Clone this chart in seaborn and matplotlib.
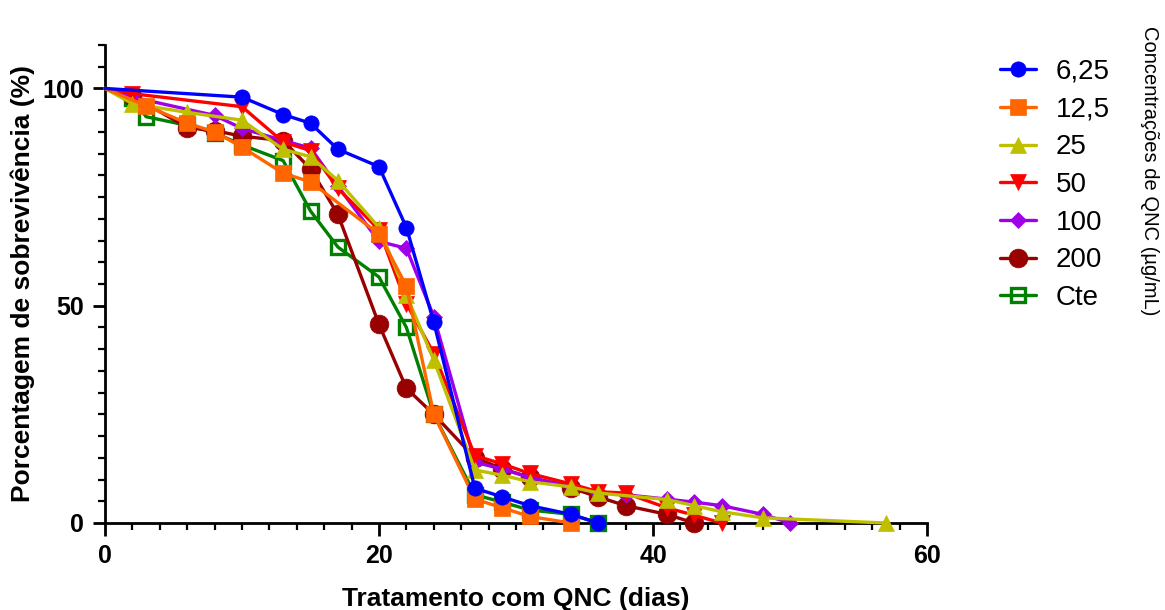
import numpy as np
import pandas as pd
import matplotlib
matplotlib.use("Agg")
import matplotlib.pyplot as plt
import seaborn as sns
from matplotlib.ticker import MultipleLocator

# survival (%) vs treatment day, per QNC concentration (ug/mL)
days_625 = [0, 10, 13, 15, 17, 20, 22, 24, 27, 29, 31, 34, 36]
surv_625 = [100, 98, 94, 92, 86, 82, 68, 46.2, 8, 6, 4, 2, 0]

days_125 = [0, 3, 6, 8, 10, 13, 15, 20, 22, 24, 27, 29, 31, 34]
surv_125 = [100, 96, 92, 90, 86.5, 80.5, 78.5, 66.5, 54.5, 25, 5.5, 3.5, 1.5, 0]

days_25 = [0, 2, 6, 10, 13, 15, 17, 20, 22, 24, 27, 29, 31, 34, 36, 41, 43, 45, 48, 57]
surv_25 = [100, 96.5, 94.5, 92.7, 86, 84.3, 78.8, 68, 52.5, 37.5, 12.2, 11, 9.5, 8.3, 6.9, 5.4, 4, 2.6, 1.2, 0]

days_50 = [0, 2, 10, 13, 15, 17, 20, 22, 24, 27, 29, 31, 34, 36, 38, 41, 43, 45]
surv_50 = [100, 98.8, 95.8, 87.7, 85.7, 77, 67.5, 50.5, 39, 15.5, 13.6, 11.4, 9, 7.2, 6.9, 3.5, 1.8, 0]

days_100 = [0, 2, 8, 10, 13, 15, 17, 20, 22, 24, 27, 29, 31, 34, 36, 38, 41, 43, 45, 48, 50]
surv_100 = [100, 98, 93.8, 90.8, 88, 86.3, 77.5, 64.8, 63.2, 47.5, 14, 12.4, 10.5, 8.5, 7, 6.5, 5.5, 4.8, 4, 2, 0]

days_200 = [0, 2, 6, 8, 10, 13, 15, 17, 20, 22, 24, 27, 29, 31, 34, 36, 38, 41, 43]
surv_200 = [100, 98.3, 91, 90.3, 89, 88, 81.5, 71, 45.7, 31, 25, 15, 12.5, 10.5, 8.1, 6, 4, 2, 0]

days_cte = [0, 2, 3, 6, 8, 10, 13, 15, 17, 20, 22, 24, 27, 29, 31, 34, 36]
surv_cte = [100, 97.8, 93.5, 91.5, 89.8, 87, 83.4, 71.8, 63.5, 56.6, 45, 25, 6.5, 4.8, 3, 2, 0]

labels = ["6,25", "12,5", "25", "50", "100", "200", "Cte"]
all_days = [days_625, days_125, days_25, days_50, days_100, days_200, days_cte]
all_surv = [surv_625, surv_125, surv_25, surv_50, surv_100, surv_200, surv_cte]

colors = ["#0000FF", "#FF6600", "#BFBF00", "#FF0000", "#A000E8", "#990000", "#008000"]
markers = ["o", "s", "^", "v", "D", "o", "s"]
msizes = [11, 11, 11, 11, 8, 13.5, 10.5]

df = pd.concat([pd.DataFrame({"dia": d, "sobrev": s, "conc": lab})
                for d, s, lab in zip(all_days, all_surv, labels)], ignore_index=True)

sns.set_theme(style="ticks")
plt.rcParams["font.family"] = ["Liberation Sans", "DejaVu Sans"]
plt.rcParams["text.color"] = "black"
plt.rcParams["axes.labelcolor"] = "black"
plt.rcParams["xtick.color"] = "black"
plt.rcParams["ytick.color"] = "black"

fig = plt.figure(figsize=(11.65, 6.1), dpi=100)
ax = fig.add_axes([105 / 1165, 1 - 523 / 610, (927 - 105) / 1165, (523 - 45) / 610])

# draw control first so 6,25 ends on top; no marker at day 0
handles = {}
for i in reversed(range(len(labels))):
    lab = labels[i]
    sub = df[df["conc"] == lab]
    open_mk = lab == "Cte"
    sns.lineplot(data=sub, x="dia", y="sobrev", ax=ax, color=colors[i],
                 linewidth=2.4, marker=markers[i], markersize=msizes[i],
                 markerfacecolor="none" if open_mk else colors[i],
                 markeredgecolor=colors[i], markeredgewidth=2.4 if open_mk else 0.5,
                 markevery=slice(1, None),
                 label=lab, zorder=3 + (len(labels) - i), clip_on=False)
    handles[lab] = ax.get_lines()[-1]

ax.set_xlim(0, 60)
ax.set_ylim(0, 110)
ax.xaxis.set_major_locator(MultipleLocator(20))
ax.xaxis.set_minor_locator(MultipleLocator(2))
ax.set_yticks([0, 50, 100])
ax.yaxis.set_minor_locator(MultipleLocator(5))
sns.despine(ax=ax)
for sp in ["left", "bottom"]:
    ax.spines[sp].set_linewidth(2)
    ax.spines[sp].set_color("black")
ax.tick_params(which="major", length=9, width=2, color="black", labelsize=18, pad=6,
               labelcolor="black")
ax.tick_params(which="minor", length=5, width=1.6, color="black")
for t in ax.get_xticklabels() + ax.get_yticklabels():
    t.set_fontweight("bold")

ax.set_xlabel("Tratamento com QNC (dias)", fontsize=19, fontweight="bold", labelpad=14)
ax.set_ylabel("Porcentagem de sobrevivência (%)", fontsize=19, fontweight="bold", labelpad=5)

leg = ax.legend([handles[l] for l in labels], labels, loc="upper left",
                bbox_to_anchor=(1000 / 1165, 1 - 59 / 610), bbox_transform=fig.transFigure,
                frameon=False, fontsize=20, borderpad=0, borderaxespad=0,
                handlelength=1.3, handletextpad=0.7, labelspacing=0.42)
for line in leg.get_lines():
    line.set_linewidth(2.4)
    line.set_markevery([1])

fig.text(1150 / 1165, 1 - 26 / 610, "Concentrações de QNC (µg/mL)", rotation=270,
         ha="center", va="top", fontsize=14.5)

fig.savefig("out.png", dpi=100)
